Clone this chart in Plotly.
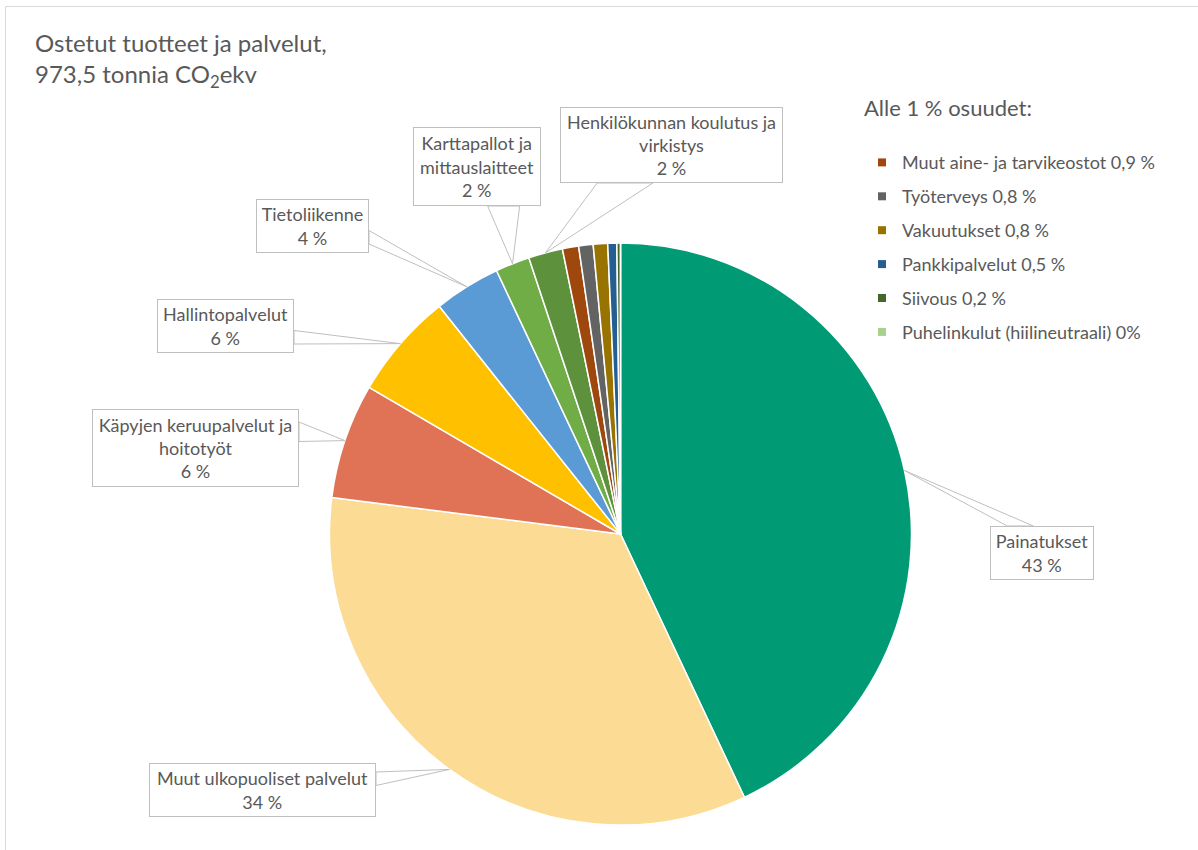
import math
import plotly.graph_objects as go

W, H = 1198, 850
FONT = "Lato"
TXT = "#595959"
EDGE = "#BFBFBF"

# ---- data ----
categories = [
    "Painatukset",
    "Muut ulkopuoliset palvelut",
    "Käpyjen keruupalvelut ja<br>hoitotyöt",
    "Hallintopalvelut",
    "Tietoliikenne",
    "Karttapallot ja<br>mittauslaitteet",
    "Henkilökunnan koulutus ja<br>virkistys",
    "Muut aine- ja tarvikeostot",
    "Työterveys",
    "Vakuutukset",
    "Pankkipalvelut",
    "Siivous",
    "Puhelinkulut (hiilineutraali)",
]
shares = [43.0, 34.0, 6.4, 5.9, 3.7, 1.9, 1.9, 0.9, 0.8, 0.8, 0.5, 0.2, 0.0]
colors = ["#009B74", "#FCDB94", "#E07356", "#FFC000", "#5B9BD5", "#70AD47", "#5E913C",
          "#9E480E", "#636363", "#997300", "#255E91", "#43682B", "#A9D18E"]
legend_labels = [
    "Muut aine- ja tarvikeostot 0,9 %",
    "Työterveys 0,8 %",
    "Vakuutukset 0,8 %",
    "Pankkipalvelut 0,5 %",
    "Siivous 0,2 %",
    "Puhelinkulut (hiilineutraali) 0%",
]
n_labeled = 7

# ---- layout geometry (pixels) ----
PIE_CX, PIE_CY, PIE_R = 620.5, 534.0, 291.0
# callout boxes: centre x, centre y, width, height
boxes = [
    (1042, 553, 104, 54),
    (262.5, 790, 227, 54),
    (195.5, 448, 207, 78),
    (225.5, 326, 137, 54),
    (312.5, 226, 113, 54),
    (477, 166.5, 128, 79),
    (671.5, 145, 223, 76),
]

def px(x):
    return x / W

def py(y):
    return 1 - y / H

fig = go.Figure()
fig.add_trace(go.Pie(
    labels=categories, values=shares, sort=False, direction="clockwise", rotation=0,
    marker=dict(colors=colors, line=dict(color="white", width=1.5)),
    textinfo="none", hoverinfo="label+percent", showlegend=False,
    domain=dict(x=[px(PIE_CX - PIE_R), px(PIE_CX + PIE_R)],
                y=[py(PIE_CY + PIE_R), py(PIE_CY - PIE_R)]),
))

for i, lab in enumerate(legend_labels):
    k = n_labeled + i
    fig.add_trace(go.Scatter(
        x=[None], y=[None], mode="markers", name=lab, legendgroup=str(k),
        marker=dict(symbol="square", size=8, color=colors[k]),
    ))

total = sum(shares)
cum = 0.0
shapes = []
annotations = []
for i, (cat, v) in enumerate(zip(categories, shares)):
    mid = (cum + v / 2) / total * 2 * math.pi
    cum += v
    if i >= n_labeled:
        continue
    tx = PIE_CX + PIE_R * math.sin(mid)
    ty = PIE_CY - PIE_R * math.cos(mid)
    bx, by, bw, bh = boxes[i]
    dx = (tx - bx) / bw
    dy = (ty - by) / bh
    if abs(dx) > abs(dy):
        xe = bx + (bw / 2 if dx > 0 else -bw / 2)
        top = by - bh / 2
        f = (2 / 12, 5 / 12) if ty < by else (7 / 12, 10 / 12)
        p1 = (xe, top + f[0] * bh)
        p2 = (xe, top + f[1] * bh)
    else:
        ye = by + (bh / 2 if dy > 0 else -bh / 2)
        left = bx - bw / 2
        f = (2 / 12, 5 / 12) if tx < bx else (7 / 12, 10 / 12)
        p1 = (left + f[0] * bw, ye)
        p2 = (left + f[1] * bw, ye)
    path = (f"M {px(p1[0])},{py(p1[1])} L {px(tx)},{py(ty)} "
            f"L {px(p2[0])},{py(p2[1])} Z")
    shapes.append(dict(type="path", path=path, xref="paper", yref="paper",
                       fillcolor="white", line=dict(color=EDGE, width=1), layer="above"))
    annotations.append(dict(
        x=px(bx), y=py(by), xref="paper", yref="paper", xanchor="center", yanchor="middle",
        text=f"{cat}<br>{round(v):.0f} %", showarrow=False, align="center", valign="middle",
        width=bw - 2, height=bh - 2, bgcolor="white", bordercolor=EDGE, borderwidth=1,
        borderpad=0, font=dict(family=FONT, size=18, color=TXT),
    ))

# outer chart border (top and left visible)
shapes.append(dict(type="rect", xref="paper", yref="paper",
                   x0=px(5.5), x1=1.2, y0=-0.2, y1=py(6.5),
                   line=dict(color="#D9D9D9", width=1), layer="below"))

fig.update_layout(
    width=W, height=H, margin=dict(l=0, r=0, t=0, b=0),
    paper_bgcolor="white", plot_bgcolor="white",
    xaxis=dict(visible=False), yaxis=dict(visible=False),
    title=dict(text="Ostetut tuotteet ja palvelut,<br>973,5 tonnia CO<sub>2</sub>ekv",
               x=px(35), xref="paper", xanchor="left", y=py(52), yanchor="top",
               font=dict(family=FONT, size=24, color=TXT)),
    legend=dict(title=dict(text="Alle 1 % osuudet:<br>", font=dict(family=FONT, size=22, color=TXT)),
                font=dict(family=FONT, size=18, color=TXT),
                x=px(862), y=py(87), xanchor="left", yanchor="top",
                tracegroupgap=7.5, bgcolor="rgba(0,0,0,0)"),
    shapes=shapes, annotations=annotations,
)

fig.write_html("out.html")
